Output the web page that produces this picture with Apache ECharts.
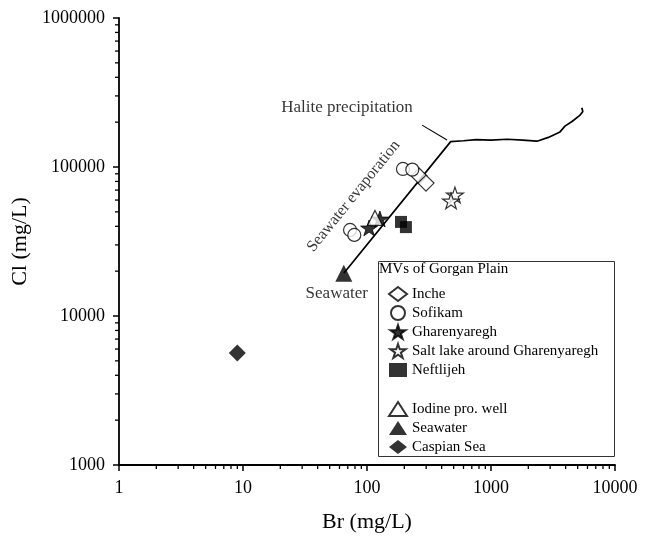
<!DOCTYPE html>
<html>
<head>
<meta charset="utf-8">
<script src="https://cdn.jsdelivr.net/npm/echarts@6/dist/echarts.min.js"></script>
<style>
  html, body { margin: 0; padding: 0; background: #fff; }
  #chart { width: 646px; height: 536px; }
</style>
</head>
<body>
<div id="chart"></div>
<script>
// Axis extents and tick labels (log10 scales)
const brTicks = [1, 10, 100, 1000, 10000];
const clTicks = [1000, 10000, 100000, 1000000];

// Br (mg/L), Cl (mg/L) for each sample group
const inche        = [[263, 87000], [299, 78000]];
const sofikam      = [[73, 37800], [79, 35000], [195, 97000], [232, 96000]];
const gharenyaregh = [[104, 39000], [127, 44800]];
const saltLake     = [[512, 64900], [476, 59200]];
const neftlijeh    = [[188, 42800], [206, 39500]];
const iodineWell   = [[116, 45500]];
const seawater     = [[65, 19350]];
const caspianSea   = [[9, 5650]];

// Seawater evaporation trend, then the halite precipitation branch
const evaporationPath = [[65, 19350], [473, 148000]];
const halitePath = [
  [473, 148000], [600, 150000], [760, 152500], [1000, 151500], [1350, 153500],
  [1800, 151500], [2350, 149000], [2900, 158000], [3600, 172000], [3950, 188000],
  [4500, 202000], [5200, 222000], [5500, 236000], [5400, 250000]
];

// Annotation anchors (Br, Cl)
const halitePoint = [69, 249000];
const evaporationPoint = [78, 63800];
const seawaterPoint = [57, 14250];
const halitePointer = [[278, 191000], [442, 152000]];

const FONT = '"Liberation Serif", "Times New Roman", serif';
const STAR = 'path://M50,0 L61.8,35.4 L100,35.4 L69.1,57.3 L80.9,92.7 L50,70.8 L19.1,92.7 L30.9,57.3 L0,35.4 L38.2,35.4 Z';

// Minor ticks at 2..9 within every decade
function minorTicks(first, last) {
  const out = [];
  for (let d = first; d < last; d *= 10) {
    for (let k = 2; k <= 9; k++) out.push(k * d);
  }
  return out;
}
const brMinor = minorTicks(brTicks[0], brTicks[brTicks.length - 1]);
const clMinor = minorTicks(clTicks[0], clTicks[clTicks.length - 1]);

const open = { color: '#fff', borderColor: '#000', borderWidth: 1.2 };
const solid = { color: '#000', borderColor: '#000', borderWidth: 0 };
const solidStar = { color: '#000', borderColor: '#000', borderWidth: 1 };

function scatter(name, data, symbol, size, style) {
  return {
    name, type: 'scatter', data, symbol, symbolSize: size,
    symbolKeepAspect: true, itemStyle: style, z: 5
  };
}

const chart = echarts.init(document.getElementById('chart'), null, { renderer: 'canvas' });

chart.setOption({
  backgroundColor: '#fff',
  animation: false,
  grid: { left: 119, right: 31, top: 18, bottom: 71, outerBoundsMode: 'none' },
  xAxis: {
    type: 'log', logBase: 10,
    min: brTicks[0], max: brTicks[brTicks.length - 1],
    name: 'Br (mg/L)', nameLocation: 'middle', nameGap: 46,
    nameTextStyle: { fontFamily: FONT, fontSize: 22, color: '#000' },
    axisLine: { onZero: false, lineStyle: { color: '#000', width: 1.8 } },
    axisTick: { length: 6, lineStyle: { color: '#000', width: 1.5 } },
    axisLabel: {
      fontFamily: FONT, fontSize: 18, color: '#000', margin: 14,
      formatter: v => String(Math.round(v))
    },
    splitLine: { show: false }
  },
  yAxis: {
    type: 'log', logBase: 10,
    min: clTicks[0], max: clTicks[clTicks.length - 1],
    name: 'Cl (mg/L)', nameLocation: 'middle', nameGap: 80,
    nameTextStyle: { fontFamily: FONT, fontSize: 22, color: '#000' },
    axisLine: { onZero: false, lineStyle: { color: '#000', width: 1.8 } },
    axisTick: { length: 6, lineStyle: { color: '#000', width: 1.5 } },
    axisLabel: {
      fontFamily: FONT, fontSize: 18, color: '#000', margin: 14,
      formatter: v => String(Math.round(v))
    },
    splitLine: { show: false }
  },
  legend: [
    {
      data: ['Inche', 'Sofikam', 'Gharenyaregh', 'Salt lake around Gharenyaregh', 'Neftlijeh'],
      orient: 'vertical', left: 383, top: 281, itemWidth: 18, itemHeight: 14, itemGap: 3,
      selectedMode: false,
      textStyle: { fontFamily: FONT, fontSize: 15, color: '#000', lineHeight: 16 }
    },
    {
      data: ['Iodine pro. well', 'Seawater', 'Caspian Sea'],
      orient: 'vertical', left: 383, top: 396, itemWidth: 18, itemHeight: 14, itemGap: 3,
      selectedMode: false,
      textStyle: { fontFamily: FONT, fontSize: 15, color: '#000', lineHeight: 16 }
    }
  ],
  graphic: [
    {
      type: 'rect', left: 376, top: 259, z: 1, silent: true,
      shape: { width: 236, height: 195 },
      style: { fill: 'none', stroke: '#333', lineWidth: 1 }
    },
    {
      type: 'text', left: 379, top: 262, z: 2, silent: true,
      style: { text: 'MVs of Gorgan Plain', font: '15px ' + FONT, fill: '#000' }
    }
  ],
  series: [
    {
      name: 'trend', type: 'line', data: evaporationPath.concat(halitePath.slice(1)),
      symbol: 'none', smooth: false, z: 3, silent: true,
      lineStyle: { color: '#000', width: 1.7 }
    },
    scatter('Inche', inche, 'diamond', 16, open),
    scatter('Sofikam', sofikam, 'circle', 13, open),
    scatter('Gharenyaregh', gharenyaregh, STAR, 17, solidStar),
    scatter('Salt lake around Gharenyaregh', saltLake, STAR, 17, open),
    scatter('Neftlijeh', neftlijeh, 'rect', 12, solid),
    scatter('Iodine pro. well', iodineWell, 'triangle', 15, open),
    scatter('Seawater', seawater, 'triangle', 17, solid),
    scatter('Caspian Sea', caspianSea, 'diamond', 17, solid),
    {
      name: 'notes', type: 'scatter', symbolSize: 1, silent: true, z: 6,
      itemStyle: { color: 'transparent' },
      label: {
        show: true, position: 'inside', color: '#000', fontFamily: FONT, fontSize: 17,
        formatter: p => p.name
      },
      data: [
        { name: 'Halite precipitation', value: halitePoint },
        { name: 'Seawater evaporation', value: evaporationPoint, label: { rotate: 51, fontSize: 16 } },
        { name: 'Seawater', value: seawaterPoint }
      ],
      markLine: {
        silent: true, symbol: ['none', 'arrow'], symbolSize: [0, 11],
        lineStyle: { color: '#000', width: 1.1, type: 'solid' },
        label: { show: false },
        data: [[{ coord: halitePointer[0] }, { coord: halitePointer[1] }]]
      }
    },
    {
      name: 'brMinorTicks', type: 'custom', silent: true, clip: false,
      data: brMinor.map(v => [v, clTicks[0]]),
      renderItem: (params, api) => {
        const p = api.coord([api.value(0), api.value(1)]);
        return { type: 'line', shape: { x1: p[0], y1: p[1], x2: p[0], y2: p[1] + 4 },
                 style: { stroke: '#000', lineWidth: 1.3 } };
      }
    },
    {
      name: 'clMinorTicks', type: 'custom', silent: true, clip: false,
      data: clMinor.map(v => [brTicks[0], v]),
      renderItem: (params, api) => {
        const p = api.coord([api.value(0), api.value(1)]);
        return { type: 'line', shape: { x1: p[0], y1: p[1], x2: p[0] - 4, y2: p[1] },
                 style: { stroke: '#000', lineWidth: 1.3 } };
      }
    }
  ]
});
</script>
</body>
</html>
